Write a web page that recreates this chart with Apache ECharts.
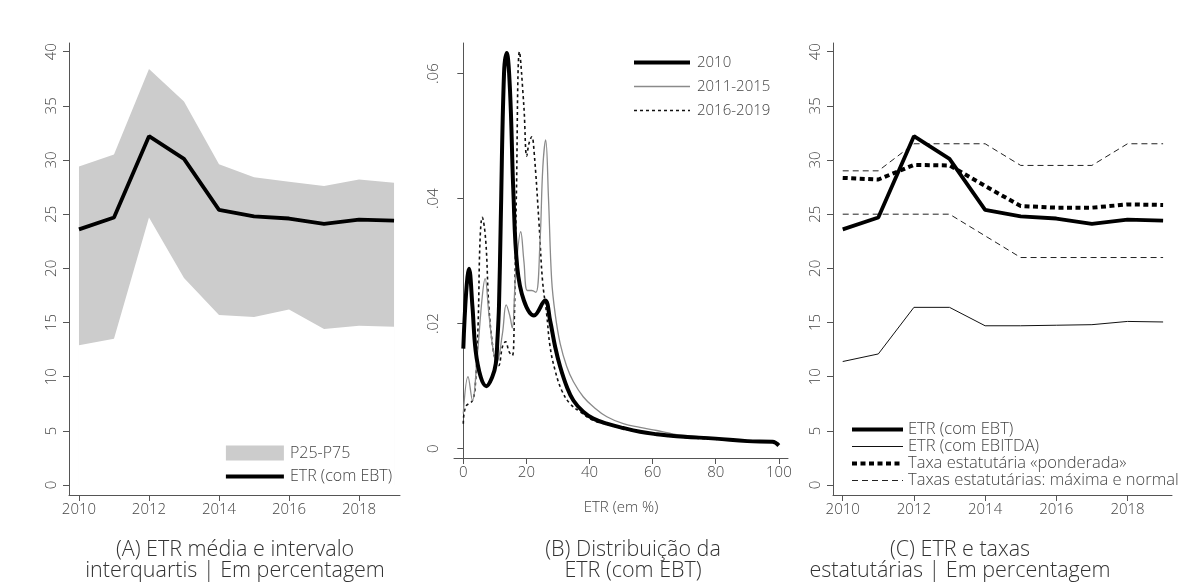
<!DOCTYPE html>
<html><head><meta charset="utf-8">
<script src="https://cdn.jsdelivr.net/npm/echarts@6/dist/echarts.min.js"></script>
<style>html,body{margin:0;padding:0;background:#fff}#c{width:1186px;height:583px}</style>
</head><body><div id="c"></div>
<script>
// ---- data ----
const years = [2010, 2011, 2012, 2013, 2014, 2015, 2016, 2017, 2018, 2019];
const etrEbt = [23.6, 24.7, 32.2, 30.1, 25.4, 24.8, 24.6, 24.1, 24.5, 24.4];
const p25 = [12.9, 13.5, 24.7, 19.1, 15.7, 15.5, 16.2, 14.4, 14.7, 14.6];
const p75 = [29.4, 30.5, 38.4, 35.4, 29.6, 28.4, 28.0, 27.6, 28.2, 27.9];
const etrEbitda = [11.4, 12.1, 16.4, 16.4, 14.7, 14.7, 14.75, 14.8, 15.1, 15.05];
const taxaPonderada = [28.35, 28.2, 29.55, 29.5, 27.6, 25.75, 25.6, 25.6, 25.9, 25.85];
const taxaMaxima = [29, 29, 31.5, 31.5, 31.5, 29.5, 29.5, 29.5, 31.5, 31.5];
const taxaNormal = [25, 25, 25, 25, 23, 21, 21, 21, 21, 21];
const yearTicks = [2010, 2012, 2014, 2016, 2018];
const pctTicks = [0, 5, 10, 15, 20, 25, 30, 35, 40];
const etrTicks = [0, 20, 40, 60, 80, 100];
const densTicks = [0, 0.02, 0.04, 0.06];

const etr2010 = [0, 0.9, 1.8, 2.9, 3.9, 5.5, 7.3, 9.2, 10.3, 10.8, 11.3, 11.85, 12.9, 13.75, 14.8, 15.85, 17.1, 19.2, 22.4, 25.9, 27.5, 29.1, 30.7, 32.8, 34.9, 38, 41.2, 45.5, 50.7, 56, 61.3, 65, 70, 80, 90, 98, 100];
const dens2010 = [0.016, 0.025, 0.0288, 0.0227, 0.0157, 0.0115, 0.0100, 0.0115, 0.0136, 0.0173, 0.0227, 0.036, 0.060, 0.0633, 0.0573, 0.0413, 0.029, 0.0237, 0.0213, 0.0237, 0.0205, 0.0163, 0.0131, 0.0099, 0.0077, 0.0059, 0.0048, 0.0040, 0.0033, 0.0027, 0.0023, 0.0021, 0.0019, 0.0016, 0.0012, 0.0011, 0.0005];

const etr1115 = [0, 1.5, 2.9, 4.4, 6.0, 6.9, 8.1, 9.5, 10.6, 12.4, 13.6, 14.8, 15.5, 16.6, 18.2, 19.2, 20.3, 21.7, 23.0, 24.3, 25.2, 26.1, 27.0, 28.0, 29.1, 30.7, 32.8, 34.9, 38, 41.2, 45.5, 50.7, 56, 61.3, 65, 70, 80, 90, 98, 100];
const dens1115 = [0.0056, 0.0115, 0.0077, 0.0147, 0.0243, 0.0272, 0.0216, 0.0157, 0.0138, 0.0184, 0.0230, 0.0211, 0.0193, 0.028, 0.0347, 0.030, 0.0253, 0.0253, 0.0250, 0.033, 0.045, 0.0494, 0.040, 0.027, 0.0216, 0.0168, 0.0131, 0.0107, 0.0083, 0.0067, 0.0051, 0.0040, 0.0034, 0.0029, 0.0025, 0.0021, 0.0017, 0.0013, 0.0012, 0.0008];

const etr1619 = [0, 0.75, 2.9, 3.9, 4.7, 5.3, 6.0, 7.1, 8.1, 9.5, 10.6, 11.2, 12.4, 13.4, 14.5, 15.5, 16.0, 16.8, 17.8, 19.2, 20.1, 20.8, 21.7, 22.4, 24.0, 25.1, 26.4, 27.5, 29.1, 31.2, 33.8, 37, 41.2, 45.5, 50.7, 56, 61.3, 70, 80, 90, 98, 100];
const dens1619 = [0.0040, 0.0067, 0.0077, 0.0109, 0.020, 0.0333, 0.037, 0.0333, 0.0227, 0.0157, 0.0136, 0.0133, 0.0163, 0.0171, 0.0155, 0.0149, 0.0173, 0.040, 0.0635, 0.0547, 0.0468, 0.0488, 0.0499, 0.0477, 0.036, 0.0269, 0.0216, 0.0163, 0.0125, 0.0093, 0.0072, 0.0059, 0.0045, 0.0039, 0.0032, 0.0026, 0.0022, 0.0018, 0.0015, 0.0012, 0.0010, 0.0005];

// ---- helpers ----
const FONT = '"Open Sans", "Noto Sans", sans-serif';
const AX = '#555';
const TXT = '#444';
const zip = (xs, ys) => xs.map((x, i) => [x, ys[i]]);

function yAxisPct(gridIndex) {
  return {
    type: 'value', gridIndex, min: -0.92, max: 40.8,
    axisLine: { show: true, lineStyle: { color: AX, width: 1 } },
    axisTick: { show: true, length: 6, customValues: pctTicks, lineStyle: { color: AX } },
    axisLabel: { customValues: pctTicks, rotate: 90, margin: 10, color: TXT, fontFamily: FONT, fontSize: 15, fontWeight: 300 },
    splitLine: { show: false }
  };
}
function xAxisYear(gridIndex, min, max) {
  return {
    type: 'value', gridIndex, min, max,
    axisLine: { show: true, onZero: false, lineStyle: { color: AX, width: 1 } },
    axisTick: { show: true, length: 6, customValues: yearTicks, lineStyle: { color: AX } },
    axisLabel: { customValues: yearTicks, margin: 7, color: TXT, fontFamily: FONT, fontSize: 15, fontWeight: 300, formatter: v => String(v) },
    splitLine: { show: false }
  };
}

const legendText = { color: TXT, fontFamily: FONT, fontWeight: 300 };
const noSymbol = { opacity: 0 };
const titleFont = '300 21.5px ' + FONT;

const option = {
  backgroundColor: '#fff',
  animation: false,
  grid: [
    { left: 69, top: 43, width: 331, height: 452 },
    { left: 454, top: 43, width: 334, height: 415 },
    { left: 833, top: 43, width: 339, height: 452 }
  ],
  xAxis: [
    xAxisYear(0, 2009.715, 2019.17),
    {
      type: 'value', gridIndex: 1, min: -2.95, max: 102.9,
      name: 'ETR (em %)', nameLocation: 'middle', nameGap: 42,
      nameTextStyle: { color: TXT, fontFamily: FONT, fontSize: 15, fontWeight: 300 },
      axisLine: { show: true, onZero: false, lineStyle: { color: AX, width: 1 } },
      axisTick: { show: true, length: 6, customValues: etrTicks, lineStyle: { color: AX } },
      axisLabel: { customValues: etrTicks, margin: 7, color: TXT, fontFamily: FONT, fontSize: 15, fontWeight: 300 },
      splitLine: { show: false }
    },
    xAxisYear(2, 2009.727, 2019.25)
  ],
  yAxis: [
    yAxisPct(0),
    {
      type: 'value', gridIndex: 1, min: -0.0015, max: 0.0649,
      axisLine: { show: true, lineStyle: { color: AX, width: 1 } },
      axisTick: { show: true, length: 6, customValues: densTicks, lineStyle: { color: AX } },
      axisLabel: {
        customValues: densTicks, rotate: 90, margin: 13, color: TXT, fontFamily: FONT, fontSize: 15, fontWeight: 300,
        formatter: v => v === 0 ? '0' : String(Math.round(v * 100) / 100).replace(/^0/, '')
      },
      splitLine: { show: false }
    },
    yAxisPct(2)
  ],
  legend: [
    {
      left: 219, top: 440, orient: 'vertical', itemWidth: 58, itemHeight: 15, itemGap: 7.5,
      textStyle: Object.assign({ padding: [0, 0, 0, 1], fontSize: 16 }, legendText),
      lineStyle: { width: 'inherit' }, itemStyle: noSymbol,
      data: [{ name: 'P25-P75', icon: 'rect', itemStyle: { color: '#cccccc', opacity: 1 } }, { name: 'ETR (com EBT)' }]
    },
    {
      left: 627, top: 50, orient: 'vertical', itemWidth: 56, itemHeight: 15, itemGap: 9,
      textStyle: Object.assign({ padding: [0, 0, 0, 2], fontSize: 15 }, legendText),
      lineStyle: { width: 'inherit' }, itemStyle: noSymbol,
      data: ['2010', '2011-2015', '2016-2019']
    },
    {
      left: 845, top: 416, orient: 'vertical', itemWidth: 51, itemHeight: 10, itemGap: 0,
      textStyle: Object.assign({ padding: [0, 0, 0, 0], lineHeight: 16.7, fontSize: 16.5 }, legendText),
      lineStyle: { width: 'inherit' }, itemStyle: noSymbol,
      data: ['ETR (com EBT) ', 'ETR (com EBITDA)', 'Taxa estatutária «ponderada»', 'Taxas estatutárias: máxima e normal']
    }
  ],
  series: [
    // Panel A: interquartile band (upper filled grey, lower masked white)
    {
      name: 'P25-P75', type: 'line', xAxisIndex: 0, yAxisIndex: 0, symbol: 'none',
      data: zip(years, p75),
      lineStyle: { width: 0, color: '#cccccc' }, itemStyle: { color: '#cccccc' },
      areaStyle: { color: '#cccccc', opacity: 1, origin: 0 }
    },
    {
      name: 'p25mask', type: 'line', xAxisIndex: 0, yAxisIndex: 0, symbol: 'none', silent: true,
      data: zip(years, p25),
      lineStyle: { width: 0, color: '#ffffff' }, itemStyle: { color: '#ffffff' },
      areaStyle: { color: '#ffffff', opacity: 1, origin: 0 }
    },
    {
      name: 'ETR (com EBT)', type: 'line', xAxisIndex: 0, yAxisIndex: 0, symbol: 'none',
      data: zip(years, etrEbt), lineStyle: { color: '#000', width: 3.8 }, itemStyle: { color: '#000' }
    },
    // Panel B
    {
      name: '2016-2019', type: 'line', xAxisIndex: 1, yAxisIndex: 1, symbol: 'none', smooth: 0.4,
      data: zip(etr1619, dens1619), lineStyle: { color: '#111', width: 1.6, type: [3, 3] }, itemStyle: { color: '#111' }
    },
    {
      name: '2011-2015', type: 'line', xAxisIndex: 1, yAxisIndex: 1, symbol: 'none', smooth: 0.4,
      data: zip(etr1115, dens1115), lineStyle: { color: '#8a8a8a', width: 1.3 }, itemStyle: { color: '#8a8a8a' }
    },
    {
      name: '2010', type: 'line', xAxisIndex: 1, yAxisIndex: 1, symbol: 'none', smooth: 0.4,
      data: zip(etr2010, dens2010), lineStyle: { color: '#000', width: 4 }, itemStyle: { color: '#000' }
    },
    // Panel C
    {
      name: 'Taxas estatutárias: máxima e normal', type: 'line', xAxisIndex: 2, yAxisIndex: 2, symbol: 'none',
      data: zip(years, taxaMaxima), lineStyle: { color: '#222', width: 1, type: [6, 4] }, itemStyle: { color: '#222' }
    },
    {
      name: 'Taxas estatutárias: máxima e normal', type: 'line', xAxisIndex: 2, yAxisIndex: 2, symbol: 'none',
      data: zip(years, taxaNormal), lineStyle: { color: '#222', width: 1, type: [6, 4] }, itemStyle: { color: '#222' }
    },
    {
      name: 'ETR (com EBITDA)', type: 'line', xAxisIndex: 2, yAxisIndex: 2, symbol: 'none',
      data: zip(years, etrEbitda), lineStyle: { color: '#111', width: 1 }, itemStyle: { color: '#111' }
    },
    {
      name: 'Taxa estatutária «ponderada»', type: 'line', xAxisIndex: 2, yAxisIndex: 2, symbol: 'none',
      data: zip(years, taxaPonderada), lineStyle: { color: '#000', width: 4, type: [5, 3.5] }, itemStyle: { color: '#000' }
    },
    {
      name: 'ETR (com EBT) ', type: 'line', xAxisIndex: 2, yAxisIndex: 2, symbol: 'none',
      data: zip(years, etrEbt), lineStyle: { color: '#000', width: 3.8 }, itemStyle: { color: '#000' }
    }
  ],
  graphic: [
    { type: 'text', x: 235, y: 539.5, style: { text: '(A) ETR média e intervalo\ninterquartis | Em percentagem', align: 'center', verticalAlign: 'top', fill: '#333', font: titleFont, lineHeight: 21 } },
    { type: 'text', x: 633, y: 539.5, style: { text: '(B) Distribuição da\nETR (com EBT)', align: 'center', verticalAlign: 'top', fill: '#333', font: titleFont, lineHeight: 21 } },
    { type: 'text', x: 960, y: 539.5, style: { text: '(C) ETR e taxas\nestatutárias | Em percentagem', align: 'center', verticalAlign: 'top', fill: '#333', font: titleFont, lineHeight: 21 } }
  ]
};

const chart = echarts.init(document.getElementById('c'), null, { renderer: 'canvas' });
chart.setOption(option);
</script>
</body></html>
